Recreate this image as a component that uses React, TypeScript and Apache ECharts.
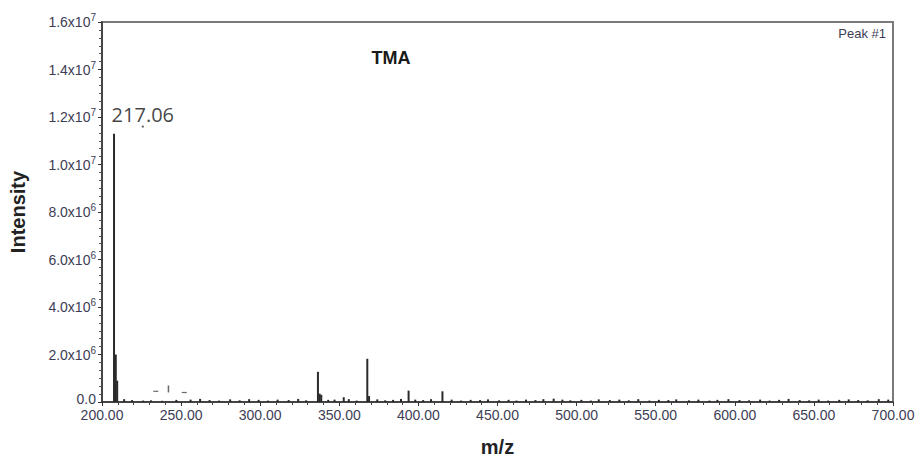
import React, { useEffect, useRef } from "react";
import * as echarts from "echarts";

// Main peaks (m/z, intensity)
const peakMz = [207.6, 208.7, 209.6, 336.5, 337.6, 338.6, 352.8, 367.7, 368.8, 393.8, 415.2, 485.5];
const peakInt = [11.3e6, 2.0e6, 0.9e6, 1.27e6, 0.35e6, 0.3e6, 0.2e6, 1.82e6, 0.25e6, 0.48e6, 0.45e6, 0.14e6];

// Small baseline noise peaks (m/z, intensity)
const noiseMz = [214, 219, 226, 231, 238, 247, 256, 262, 268, 274, 281, 287, 293, 299, 305, 311, 318, 324, 329,
  343, 347, 356, 361, 374, 379, 384, 389, 398, 403, 408, 421, 427, 433, 439, 444, 451, 457, 462, 468, 474, 479,
  491, 496, 503, 509, 514, 521, 527, 533, 539, 546, 552, 558, 563, 571, 577, 584, 589, 596, 603, 609, 616, 622,
  628, 634, 641, 647, 653, 659, 666, 672, 678, 684, 691, 697];
const noiseInt = [0.12e6, 0.08e6, 0.06e6, 0.07e6, 0.05e6, 0.09e6, 0.1e6, 0.13e6, 0.08e6, 0.06e6, 0.11e6, 0.07e6,
  0.12e6, 0.09e6, 0.06e6, 0.1e6, 0.08e6, 0.13e6, 0.07e6, 0.09e6, 0.1e6, 0.12e6, 0.06e6, 0.11e6, 0.07e6, 0.09e6,
  0.13e6, 0.1e6, 0.08e6, 0.12e6, 0.1e6, 0.06e6, 0.09e6, 0.08e6, 0.11e6, 0.07e6, 0.09e6, 0.06e6, 0.1e6, 0.08e6,
  0.12e6, 0.1e6, 0.07e6, 0.09e6, 0.06e6, 0.11e6, 0.08e6, 0.1e6, 0.07e6, 0.12e6, 0.06e6, 0.09e6, 0.08e6, 0.11e6,
  0.07e6, 0.1e6, 0.06e6, 0.09e6, 0.12e6, 0.08e6, 0.07e6, 0.1e6, 0.06e6, 0.09e6, 0.13e6, 0.08e6, 0.07e6, 0.1e6,
  0.06e6, 0.09e6, 0.11e6, 0.08e6, 0.07e6, 0.12e6, 0.1e6];

// Floating artefact marks near m/z 240
const artMz = [234, 242, 252];
const artInt = [0.45e6, 0.55e6, 0.4e6];

// Annotation
const annotMz = [225.8];
const annotInt = [11.6e6];
const annotText = ["217.06"];

const xTicks = { min: 200, max: 700, interval: 50 };
const yTicks = { min: 0, max: 1.6e7, interval: 2e6 };

const labelColor = "#3d3d55";

export default function App() {
  const ref = useRef<HTMLDivElement>(null);
  useEffect(() => {
    if (!ref.current) return;
    const chart = echarts.init(ref.current, undefined, { renderer: "svg" });
    const bars = peakMz.map((m, i) => [m, peakInt[i]]).concat(noiseMz.map((m, i) => [m, noiseInt[i]]));
    chart.setOption({
      animation: false,
      backgroundColor: "#fff",
      grid: { left: 99, right: 27, top: 22, bottom: 52, show: true, borderColor: "#7a7a7a", borderWidth: 2 },
      xAxis: {
        type: "value",
        min: xTicks.min,
        max: xTicks.max,
        interval: xTicks.interval,
        name: "m/z",
        nameLocation: "middle",
        nameGap: 35,
        nameTextStyle: { fontFamily: "Liberation Sans", fontWeight: "bold", fontSize: 20, color: "#222" },
        axisLine: { lineStyle: { color: "#333", width: 1.5 } },
        axisTick: { length: 4, lineStyle: { color: "#333" } },
        minorTick: { show: true, splitNumber: 5, length: 3, lineStyle: { color: "#444" } },
        splitLine: { show: false },
        axisLabel: {
          formatter: (v: number) => v.toFixed(2),
          fontFamily: "Liberation Sans",
          fontSize: 14,
          color: labelColor,
          margin: 6,
        },
      },
      yAxis: {
        type: "value",
        min: yTicks.min,
        max: yTicks.max,
        interval: yTicks.interval,
        name: "Intensity",
        nameLocation: "middle",
        nameGap: 74,
        nameTextStyle: { fontFamily: "Liberation Sans", fontWeight: "bold", fontSize: 20, color: "#222" },
        axisLine: { show: true, lineStyle: { color: "#333", width: 1.5 } },
        axisTick: { show: true, length: 4, lineStyle: { color: "#333" } },
        minorTick: { show: true, splitNumber: 6, length: 3, lineStyle: { color: "#555" } },
        splitLine: { show: false },
        axisLabel: {
          margin: 6,
          formatter: (v: number) => {
            if (v === 0) return "{z|0.0}";
            const e = Math.floor(Math.log10(v) + 1e-9);
            const m = (v / Math.pow(10, e)).toFixed(1);
            return `{a|${m}x10}{s|${e}}`;
          },
          rich: {
            a: { fontFamily: "Liberation Sans", fontSize: 14, color: labelColor },
            z: { fontFamily: "Liberation Sans", fontSize: 14, color: labelColor, lineHeight: 14, padding: [0, 0, 6, 0] },
            s: { fontFamily: "Liberation Sans", fontSize: 10, color: labelColor, padding: [0, 0, 9, 0] },
          },
        },
      },
      series: [
        {
          type: "bar",
          data: bars,
          barWidth: 2,
          itemStyle: { color: "#2a2a2a" },
        },
        {
          type: "scatter",
          data: artMz.map((m, i) => [m, artInt[i]]),
          symbol: "rect",
          symbolSize: (_v: any, p: any) => (p.dataIndex === 1 ? [1.5, 7] : [5, 1.2]),
          itemStyle: { color: "#444" },
        },
        {
          type: "scatter",
          data: annotMz.map((m, i) => [m, annotInt[i]]),
          symbol: "circle",
          symbolSize: 2.5,
          itemStyle: { color: "#555" },
          label: {
            show: true,
            position: "top",
            distance: 1,
            formatter: (p: any) => annotText[p.dataIndex],
            fontFamily: "Open Sans",
            fontSize: 20,
            color: "#111",
          },
        },
      ],
      graphic: [
        {
          type: "text",
          x: 391,
          y: 58,
          style: {
            text: "TMA",
            fontFamily: "Liberation Sans",
            fontWeight: "bold",
            fontSize: 18,
            fill: "#1a1a1a",
            textAlign: "center",
            textVerticalAlign: "middle",
          },
        },
        {
          type: "text",
          x: 886,
          y: 33,
          style: {
            text: "Peak #1",
            fontFamily: "Liberation Sans",
            fontSize: 13,
            fill: "#3d3d55",
            textAlign: "right",
            textVerticalAlign: "middle",
          },
        },
      ],
    });
    return () => chart.dispose();
  }, []);
  return (
    <div
      ref={ref}
      style={{ position: "fixed", left: 0, top: 0, width: 920, height: 462 }}
    />
  );
}
